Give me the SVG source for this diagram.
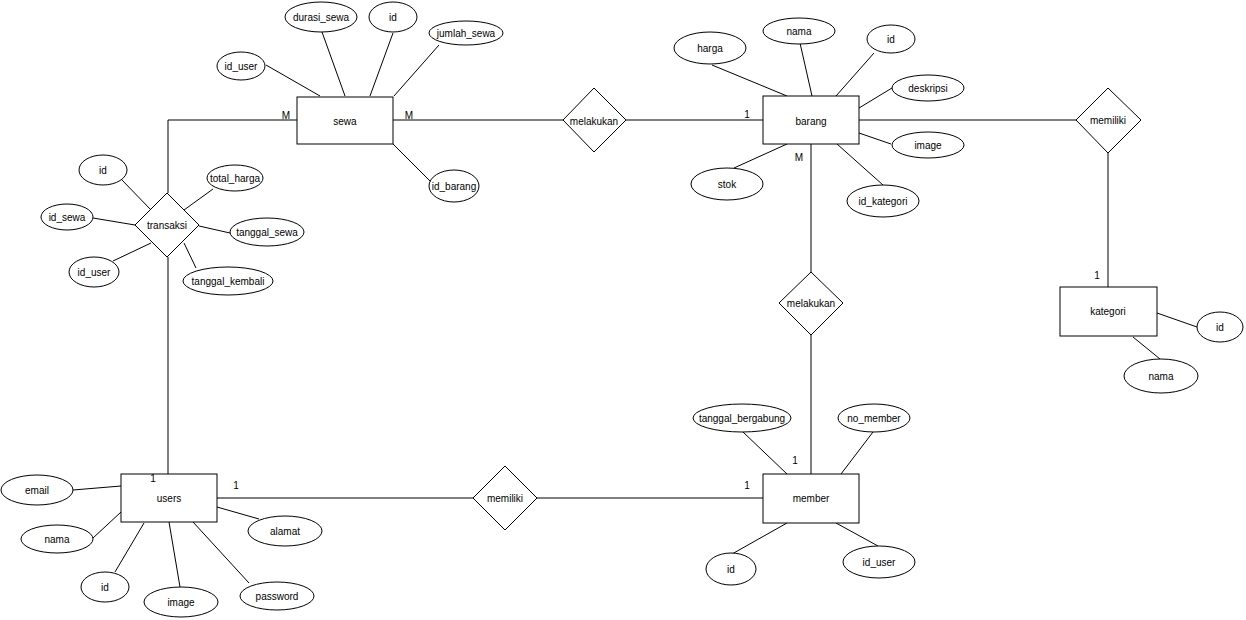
<svg xmlns="http://www.w3.org/2000/svg" width="1246" height="620" viewBox="0 0 1246 620">
<style>
.s{fill:#fff;stroke:#000;stroke-width:1}
.l{stroke:#000;stroke-width:1;fill:none}
text{font-family:"Liberation Sans",Arial,sans-serif;font-size:10px;fill:#000;text-anchor:middle;dominant-baseline:central}
</style>
<rect width="1246" height="620" fill="#fff"/>
<g id="connectors">
<path class="l" d="M297 120H168V193M168 257V474"/>
<path class="l" d="M393 120H563M626 120H763"/>
<path class="l" d="M859 120H1076M1108 153V287"/>
<path class="l" d="M811 144V272M811 335V474"/>
<path class="l" d="M217 498H473M537 498H763"/>
<path class="l" d="M266 65L320 96M322 32L345 96M393 33L370 96M439 45L394 96M393 144L432 183"/>
<path class="l" d="M712 65L787 96M800 43L812 96M874 53L836 96M892 88L859 108M859 133L891 144M734 168L787 144M837 144L883 185"/>
<path class="l" d="M1157 313L1197 327M1133 337L1160 359"/>
<path class="l" d="M743 432L787 474M873 432L841 474M787 523L732 554M836 523L878 546"/>
<path class="l" d="M73 490L121 486M93 538L121 512M115 572L144 523M180 587L169 522M249 583L193 522M259 519L217 507"/>
<path class="l" d="M121 179L151 210M213 189L184 210M93 218L135 225M199 226L230 233M113 261L151 243M184 243L196 268"/>
</g>
<g id="sewa"><rect class="s" x="297" y="97" width="96" height="47"/><text x="345" y="121">sewa</text></g>
<g id="sewa_durasi"><ellipse class="s" cx="321" cy="17" rx="36" ry="15"/><text x="321" y="17">durasi_sewa</text></g>
<g id="sewa_id"><ellipse class="s" cx="393" cy="17" rx="24" ry="15"/><text x="393" y="17">id</text></g>
<g id="sewa_jumlah"><ellipse class="s" cx="466" cy="33" rx="37" ry="12"/><text x="466" y="33">jumlah_sewa</text></g>
<g id="sewa_iduser"><ellipse class="s" cx="241" cy="66" rx="24" ry="14"/><text x="241" y="66">id_user</text></g>
<g id="sewa_idbarang"><ellipse class="s" cx="454" cy="186" rx="25" ry="16"/><text x="454" y="186">id_barang</text></g>
<g id="melakukan1"><polygon class="s" points="594,88 626,120 594,152 563,120"/><text x="594" y="121">melakukan</text></g>
<g id="barang"><rect class="s" x="763" y="96" width="96" height="48"/><text x="811" y="121">barang</text></g>
<g id="barang_harga"><ellipse class="s" cx="710" cy="48" rx="36" ry="16"/><text x="710" y="48">harga</text></g>
<g id="barang_nama"><ellipse class="s" cx="799" cy="31" rx="36" ry="13"/><text x="799" y="31">nama</text></g>
<g id="barang_id"><ellipse class="s" cx="891" cy="39" rx="24" ry="14"/><text x="891" y="39">id</text></g>
<g id="barang_deskripsi"><ellipse class="s" cx="928" cy="88" rx="36" ry="13"/><text x="928" y="88">deskripsi</text></g>
<g id="barang_image"><ellipse class="s" cx="928" cy="145" rx="36" ry="13"/><text x="928" y="145">image</text></g>
<g id="barang_stok"><ellipse class="s" cx="727" cy="184" rx="36" ry="16"/><text x="727" y="184">stok</text></g>
<g id="barang_idkategori"><ellipse class="s" cx="883" cy="201" rx="36" ry="16"/><text x="883" y="201">id_kategori</text></g>
<g id="memiliki1"><polygon class="s" points="1108,88 1141,120 1108,153 1076,120"/><text x="1108" y="120">memiliki</text></g>
<g id="kategori"><rect class="s" x="1060" y="287" width="97" height="49"/><text x="1108" y="311">kategori</text></g>
<g id="kategori_id"><ellipse class="s" cx="1220" cy="327" rx="23" ry="15"/><text x="1220" y="327">id</text></g>
<g id="kategori_nama"><ellipse class="s" cx="1161" cy="376" rx="37" ry="17"/><text x="1161" y="376">nama</text></g>
<g id="melakukan2"><polygon class="s" points="811,272 843,303 811,335 779,303"/><text x="811" y="303">melakukan</text></g>
<g id="member"><rect class="s" x="763" y="474" width="96" height="49"/><text x="811" y="498">member</text></g>
<g id="member_tgl"><ellipse class="s" cx="742" cy="418" rx="49" ry="14"/><text x="742" y="418">tanggal_bergabung</text></g>
<g id="member_no"><ellipse class="s" cx="874" cy="418" rx="36" ry="14"/><text x="874" y="418">no_member</text></g>
<g id="member_id"><ellipse class="s" cx="731" cy="569" rx="25" ry="16"/><text x="731" y="569">id</text></g>
<g id="member_iduser"><ellipse class="s" cx="879" cy="562" rx="36" ry="16"/><text x="879" y="562">id_user</text></g>
<g id="memiliki2"><polygon class="s" points="505,466 537,498 505,530 473,498"/><text x="505" y="498">memiliki</text></g>
<g id="users"><rect class="s" x="121" y="474" width="96" height="48"/><text x="169" y="498">users</text></g>
<g id="users_email"><ellipse class="s" cx="37" cy="490" rx="36" ry="15"/><text x="37" y="490">email</text></g>
<g id="users_nama"><ellipse class="s" cx="57" cy="539" rx="36" ry="14"/><text x="57" y="539">nama</text></g>
<g id="users_id"><ellipse class="s" cx="105" cy="587" rx="24" ry="15"/><text x="105" y="587">id</text></g>
<g id="users_image"><ellipse class="s" cx="181" cy="602" rx="37" ry="15"/><text x="181" y="602">image</text></g>
<g id="users_password"><ellipse class="s" cx="277" cy="596" rx="37" ry="14"/><text x="277" y="596">password</text></g>
<g id="users_alamat"><ellipse class="s" cx="285" cy="531" rx="37" ry="15"/><text x="285" y="531">alamat</text></g>
<g id="transaksi"><polygon class="s" points="167,193 199,225 167,257 135,225"/><text x="167" y="225">transaksi</text></g>
<g id="transaksi_id"><ellipse class="s" cx="103" cy="170" rx="24" ry="15"/><text x="103" y="170">id</text></g>
<g id="transaksi_total"><ellipse class="s" cx="235" cy="178" rx="28" ry="13"/><text x="235" y="178">total_harga</text></g>
<g id="transaksi_idsewa"><ellipse class="s" cx="67" cy="217" rx="26" ry="13"/><text x="67" y="217">id_sewa</text></g>
<g id="transaksi_tglsewa"><ellipse class="s" cx="267" cy="232" rx="37" ry="14"/><text x="267" y="232">tanggal_sewa</text></g>
<g id="transaksi_iduser"><ellipse class="s" cx="94" cy="272" rx="25" ry="15"/><text x="94" y="272">id_user</text></g>
<g id="transaksi_tglkembali"><ellipse class="s" cx="228" cy="281" rx="45" ry="14"/><text x="228" y="281">tanggal_kembali</text></g>
<g id="cardinalities">
<text x="286" y="115">M</text>
<text x="409" y="115">M</text>
<text x="747" y="114">1</text>
<text x="799" y="157">M</text>
<text x="1097" y="275">1</text>
<text x="795" y="460">1</text>
<text x="747" y="485">1</text>
<text x="236" y="485">1</text>
<text x="153" y="478">1</text>
</g>
</svg>
